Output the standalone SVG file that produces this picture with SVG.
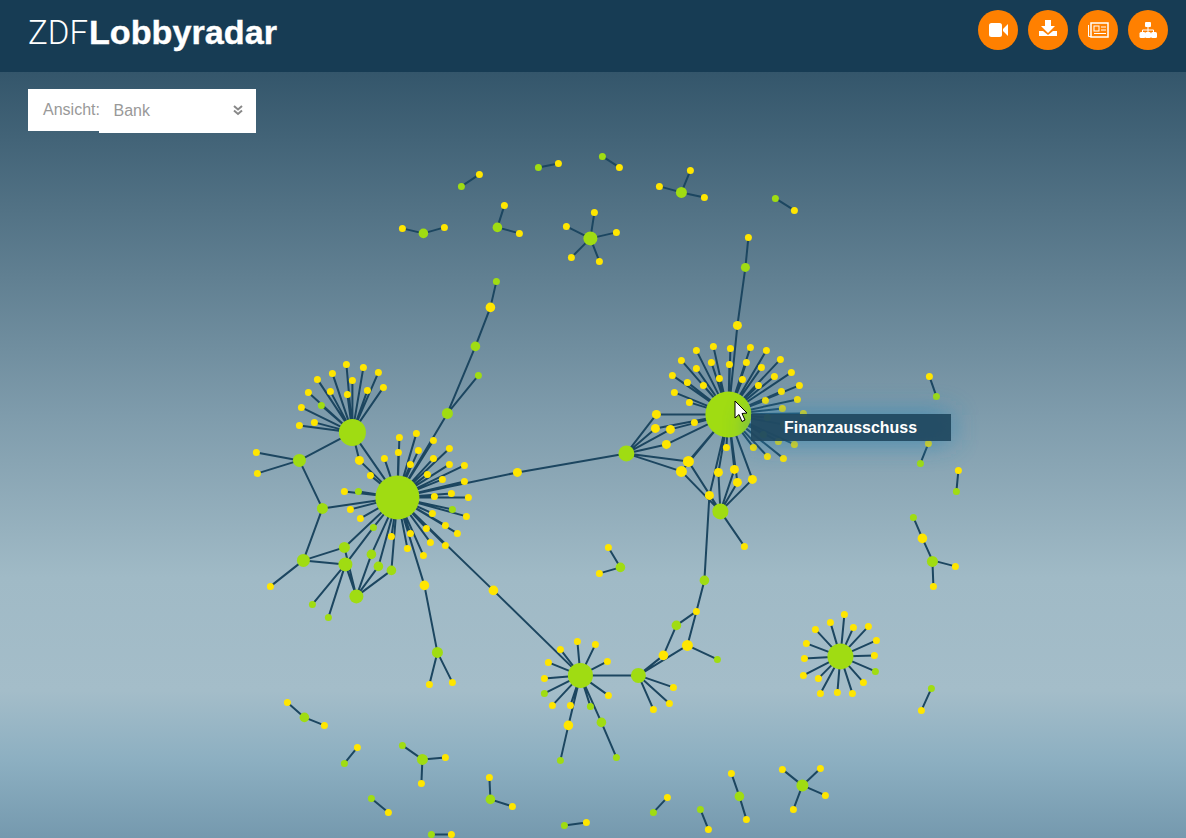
<svg xmlns="http://www.w3.org/2000/svg" width="1186" height="838" viewBox="0 0 1186 838">
<style>
.e{stroke:#1c4660;stroke-width:2;fill:none}
.y{fill:#ffe600}
.g{fill:#a0dc12}
.s{r:3.5px}
.t{r:3.5px}
.m{r:4.8px}
.i{fill:#fff}
.b{fill:#ff8000}
.f{font-family:"Liberation Sans",Arial,sans-serif}
</style>
<defs>
<linearGradient id="bg" x1="0" y1="0" x2="0" y2="1">
<stop offset="0" stop-color="#34566b"/>
<stop offset=".45" stop-color="#7f9cac"/>
<stop offset=".66" stop-color="#a0bac6"/>
<stop offset=".807" stop-color="#a4bdc9"/>
<stop offset=".9" stop-color="#8cafc1"/>
<stop offset="1" stop-color="#7599ae"/>
</linearGradient>
<filter id="glow" x="-30%" y="-200%" width="160%" height="500%"><feGaussianBlur stdDeviation="14"/></filter>
</defs>
<rect id="background" x="0" y="72" width="1186" height="766" fill="url(#bg)"/>
<g id="graph" transform="translate(.4 .4)">
<g id="connectors">
<path class="e" d="M728 414L737 325M737 325L745 267M745 267L748 237M728 414L713 346M728 414L730 348M728 414L750 347M728 414L766 350M728 414L780 359M728 414L791 372M728 414L799 385M728 414L696 350M728 414L681 360M728 414L672 375M728 414L674 392M728 414L687 382M728 414L696 368M728 414L711 362M728 414L729 364M728 414L746 362M728 414L761 367M728 414L774 376M728 414L781 391M728 414L703 385M728 414L719 378M728 414L742 379M728 414L758 385M728 414L765 400M728 414L689 402M728 414L797 399M728 414L782 408M728 414L803 413M728 414L767 417M728 414L783 424M728 414L763 434M728 414L778 441M728 414L794 444M728 414L753 447M728 414L767 456M728 414L783 458M728 414L726 447M728 414L694 422"/>
<path class="e" d="M728 414L656 414M728 414L655 428M728 414L670 429M728 414L666 444M728 414L688 461M728 414L681 471M728 414L718 472M728 414L734 469M728 414L737 482M728 414L752 479M728 414L709 495M626 453L656 414M626 453L655 428M626 453L670 429M626 453L666 444M626 453L688 461M626 453L681 471M720 511L688 461M720 511L681 471M720 511L718 472M720 511L734 469M720 511L737 482M720 511L752 479M720 511L709 495M720 511L744 546M709 495L704 580"/>
<path class="e" d="M704 580L696 611M696 611L676 625M696 611L687 645M676 625L663 655M687 645L717 659M687 645L638 675M663 655L638 675M638 675L580 675M638 675L673 687M638 675L669 703M638 675L653 709"/>
<path class="e" d="M397 497L352 432M352 432L346 364M352 432L363 367M352 432L378 372M352 432L383 387M352 432L332 373M352 432L352 380M352 432L317 379M352 432L308 392M352 432L330 391M352 432L347 394M352 432L367 390M352 432L321 405M352 432L301 407M352 432L314 422M352 432L299 425M352 432L299 460M352 432L359 460M359 460L397 497M299 460L256 452M299 460L257 473M299 460L322 508M322 508L397 497M322 508L303 560M303 560L270 586M303 560L344 547M303 560L345 564M345 564L312 604M345 564L328 617M345 564L356 596M344 547L356 596M344 547L397 497M345 564L373 527M373 527L397 497"/>
<path class="e" d="M356 596L371 554M356 596L378 566M356 596L391 570M397 497L371 554M397 497L378 566M397 497L391 570"/>
<path class="e" d="M397 497L370 475M397 497L384 458M397 497L399 437M397 497L398 452M397 497L416 433M397 497L410 464M397 497L418 450M397 497L433 440M397 497L447 413M447 413L475 346M447 413L478 375M475 346L490 307M490 307L496 281M397 497L433 458M397 497L449 448M397 497L427 474M397 497L449 464M397 497L464 465M397 497L442 479M397 497L464 481M397 497L451 493M397 497L434 496M397 497L468 497M397 497L452 509M397 497L466 516M397 497L432 513M397 497L445 525M397 497L457 533M397 497L426 528M397 497L410 533M397 497L430 542M397 497L445 545M397 497L423 555M397 497L407 548M397 497L391 536M397 497L424 585M424 585L437 652M437 652L429 684M437 652L452 682M397 497L344 491M397 497L358 491M397 497L350 509M397 497L360 518M397 497L493 590M493 590L580 675M397 497L517 472M517 472L626 453"/>
<path class="e" d="M580 675L577 641M580 675L595 644M580 675L607 661M580 675L560 649M580 675L548 662M580 675L544 678M580 675L544 693M580 675L552 705M580 675L570 705M580 675L590 706M580 675L608 695M580 675L568 725M568 725L560 760M580 675L601 722M601 722L616 757"/>
<path class="e" d="M840 656L844 614M840 656L830 622M840 656L853 627M840 656L868 626M840 656L815 629M840 656L876 640M840 656L806 643M840 656L874 655M840 656L804 658M840 656L875 671M840 656L803 675M840 656L818 678M840 656L863 682M840 656L820 693M840 656L837 692M840 656L852 693"/>
<path class="e" d="M461 186L479 174M538 167L558 163M602 156L619 167M681 192L659 186M681 192L690 170M681 192L704 197M775 198L794 210M423 233L402 228M423 233L444 227M497 227L504 205M497 227L519 233M590 238L566 226M590 238L594 212M590 238L616 232M590 238L571 257M590 238L599 261M929 376L936 396M928 443L920 463M958 470L956 491M913 517L922 538M922 538L932 560M932 560L955 566M932 560L933 586M608 547L620 567M620 567L599 573M931 688L921 710M287 702L304 717M304 717L324 725M357 747L344 763M402 745L422 759M422 759L445 757M422 759L421 783M371 798L388 812M489 777L490 799M490 799L512 806M432 834L451 834M564 825L586 822M667 797L653 812M700 809L708 829M731 773L739 796M739 796L746 819M802 785L782 769M802 785L820 768M802 785L825 795M802 785L793 809"/>
</g>
<g id="hub-finanzausschuss"><circle class="g" cx="728" cy="414" r="23"/></g>
<g id="hub-a"><circle class="g" cx="397" cy="497" r="22"/></g>
<g id="hub-c"><circle class="g" cx="352" cy="432" r="13.5"/></g>
<g id="hub-d"><circle class="g" cx="580" cy="675" r="12.5"/></g>
<g id="hub-e"><circle class="g" cx="840" cy="656" r="13"/></g>
<g id="b1"><circle class="y" cx="737" cy="325" r="4.5"/></g><g id="b2"><circle class="y s" cx="713" cy="346"/></g><g id="b3"><circle class="y s" cx="730" cy="348"/></g><g id="b4"><circle class="y s" cx="750" cy="347"/></g><g id="b5"><circle class="y s" cx="766" cy="350"/></g><g id="b6"><circle class="y s" cx="780" cy="359"/></g><g id="b7"><circle class="y s" cx="791" cy="372"/></g><g id="b8"><circle class="y s" cx="799" cy="385"/></g><g id="b9"><circle class="y s" cx="696" cy="350"/></g><g id="b10"><circle class="y s" cx="681" cy="360"/></g><g id="b11"><circle class="y s" cx="672" cy="375"/></g><g id="b12"><circle class="y s" cx="674" cy="392"/></g><g id="b13"><circle class="y s" cx="687" cy="382"/></g><g id="b14"><circle class="y s" cx="696" cy="368"/></g><g id="b15"><circle class="y s" cx="711" cy="362"/></g><g id="b16"><circle class="y s" cx="729" cy="364"/></g><g id="b17"><circle class="y s" cx="746" cy="362"/></g><g id="b18"><circle class="y s" cx="761" cy="367"/></g><g id="b19"><circle class="y s" cx="774" cy="376"/></g><g id="b20"><circle class="y s" cx="781" cy="391"/></g><g id="b21"><circle class="y s" cx="703" cy="385"/></g><g id="b22"><circle class="y s" cx="719" cy="378"/></g><g id="b23"><circle class="y s" cx="742" cy="379"/></g><g id="b24"><circle class="y s" cx="758" cy="385"/></g><g id="b25"><circle class="y s" cx="765" cy="400"/></g><g id="b26"><circle class="y s" cx="689" cy="402"/></g><g id="b27"><circle class="y s" cx="797" cy="399"/></g><g id="b28"><circle class="y s" cx="782" cy="408"/></g><g id="b29"><circle class="y s" cx="803" cy="413"/></g><g id="b30"><circle class="g s" cx="767" cy="417"/></g><g id="b31"><circle class="y s" cx="783" cy="424"/></g><g id="b32"><circle class="g s" cx="763" cy="434"/></g><g id="b33"><circle class="y s" cx="778" cy="441"/></g><g id="b34"><circle class="y s" cx="794" cy="444"/></g><g id="b35"><circle class="y s" cx="753" cy="447"/></g><g id="b36"><circle class="y s" cx="767" cy="456"/></g><g id="b37"><circle class="y s" cx="783" cy="458"/></g><g id="b38"><circle class="y s" cx="726" cy="447"/></g><g id="b39"><circle class="y s" cx="694" cy="422"/></g>
<g id="b40"><circle class="y" cx="656" cy="414" r="4.5"/></g><g id="b41"><circle class="y" cx="655" cy="428" r="4.5"/></g><g id="b42"><circle class="y" cx="670" cy="429" r="4.5"/></g><g id="b43"><circle class="y" cx="666" cy="444" r="4.5"/></g><g id="b44"><circle class="y" cx="688" cy="461" r="5.5"/></g><g id="b45"><circle class="y" cx="681" cy="471" r="5.5"/></g><g id="b46"><circle class="y" cx="718" cy="472" r="4.5"/></g><g id="b47"><circle class="y" cx="734" cy="469" r="4.5"/></g><g id="b48"><circle class="y" cx="737" cy="482" r="4.5"/></g><g id="b49"><circle class="y" cx="752" cy="479" r="4.5"/></g><g id="b50"><circle class="y" cx="709" cy="495" r="4.5"/></g><g id="b51"><circle class="g" cx="720" cy="511" r="8"/></g><g id="b52"><circle class="y s" cx="744" cy="546"/></g><g id="b53"><circle class="g" cx="626" cy="453" r="8"/></g><g id="b54"><circle class="y" cx="517" cy="472" r="4.5"/></g><g id="b55"><circle class="g" cx="745" cy="267" r="4.5"/></g><g id="b56"><circle class="y t" cx="748" cy="237"/></g>
<g id="c1"><circle class="y s" cx="346" cy="364"/></g><g id="c2"><circle class="y s" cx="363" cy="367"/></g><g id="c3"><circle class="y s" cx="378" cy="372"/></g><g id="c4"><circle class="y s" cx="383" cy="387"/></g><g id="c5"><circle class="y s" cx="332" cy="373"/></g><g id="c6"><circle class="y s" cx="352" cy="380"/></g><g id="c7"><circle class="y s" cx="317" cy="379"/></g><g id="c8"><circle class="y s" cx="308" cy="392"/></g><g id="c9"><circle class="y s" cx="330" cy="391"/></g><g id="c10"><circle class="y s" cx="347" cy="394"/></g><g id="c11"><circle class="y s" cx="367" cy="390"/></g><g id="c12"><circle class="g s" cx="321" cy="405"/></g><g id="c13"><circle class="y s" cx="301" cy="407"/></g><g id="c14"><circle class="y s" cx="314" cy="422"/></g><g id="c15"><circle class="y s" cx="299" cy="425"/></g><g id="c16"><circle class="g" cx="299" cy="460" r="6.5"/></g><g id="c17"><circle class="y" cx="359" cy="460" r="4.5"/></g><g id="c18"><circle class="y s" cx="256" cy="452"/></g><g id="c19"><circle class="y s" cx="257" cy="473"/></g><g id="c20"><circle class="g" cx="322" cy="508" r="5.5"/></g><g id="c21"><circle class="g" cx="303" cy="560" r="6.5"/></g><g id="c22"><circle class="y t" cx="270" cy="586"/></g><g id="c23"><circle class="g" cx="344" cy="547" r="5.5"/></g><g id="c24"><circle class="g" cx="345" cy="564" r="7"/></g><g id="c25"><circle class="g t" cx="312" cy="604"/></g><g id="c26"><circle class="g t" cx="328" cy="617"/></g><g id="c27"><circle class="g" cx="356" cy="596" r="7"/></g><g id="c28"><circle class="g t" cx="373" cy="527"/></g><g id="c29"><circle class="g m" cx="371" cy="554"/></g><g id="c30"><circle class="g m" cx="378" cy="566"/></g><g id="c31"><circle class="g m" cx="391" cy="570"/></g>
<g id="a1"><circle class="y s" cx="370" cy="475"/></g><g id="a2"><circle class="y s" cx="384" cy="458"/></g><g id="a3"><circle class="y s" cx="399" cy="437"/></g><g id="a4"><circle class="y s" cx="398" cy="452"/></g><g id="a5"><circle class="y s" cx="416" cy="433"/></g><g id="a6"><circle class="y s" cx="410" cy="464"/></g><g id="a7"><circle class="y s" cx="418" cy="450"/></g><g id="a8"><circle class="y s" cx="433" cy="440"/></g><g id="a9"><circle class="g" cx="447" cy="413" r="5.5"/></g><g id="a10"><circle class="g m" cx="475" cy="346"/></g><g id="a11"><circle class="g t" cx="478" cy="375"/></g><g id="a12"><circle class="y m" cx="490" cy="307"/></g><g id="a13"><circle class="g t" cx="496" cy="281"/></g><g id="a14"><circle class="y s" cx="433" cy="458"/></g><g id="a15"><circle class="y s" cx="449" cy="448"/></g><g id="a16"><circle class="y s" cx="427" cy="474"/></g><g id="a17"><circle class="y s" cx="449" cy="464"/></g><g id="a18"><circle class="y s" cx="464" cy="465"/></g><g id="a19"><circle class="y s" cx="442" cy="479"/></g><g id="a20"><circle class="y s" cx="464" cy="481"/></g><g id="a21"><circle class="y s" cx="451" cy="493"/></g><g id="a22"><circle class="y s" cx="434" cy="496"/></g><g id="a23"><circle class="y s" cx="468" cy="497"/></g><g id="a24"><circle class="g t" cx="452" cy="509"/></g><g id="a25"><circle class="y s" cx="466" cy="516"/></g><g id="a26"><circle class="y s" cx="432" cy="513"/></g><g id="a27"><circle class="y s" cx="445" cy="525"/></g><g id="a28"><circle class="y s" cx="457" cy="533"/></g><g id="a29"><circle class="y s" cx="426" cy="528"/></g><g id="a30"><circle class="y s" cx="410" cy="533"/></g><g id="a31"><circle class="y s" cx="430" cy="542"/></g><g id="a32"><circle class="y s" cx="445" cy="545"/></g><g id="a33"><circle class="y s" cx="423" cy="555"/></g><g id="a34"><circle class="y s" cx="407" cy="548"/></g><g id="a35"><circle class="y s" cx="391" cy="536"/></g><g id="a36"><circle class="y m" cx="424" cy="585"/></g><g id="a37"><circle class="g" cx="437" cy="652" r="5.5"/></g><g id="a38"><circle class="y t" cx="429" cy="684"/></g><g id="a39"><circle class="y t" cx="452" cy="682"/></g><g id="a40"><circle class="y t" cx="344" cy="491"/></g><g id="a41"><circle class="g t" cx="358" cy="491"/></g><g id="a42"><circle class="y t" cx="350" cy="509"/></g><g id="a43"><circle class="y t" cx="360" cy="518"/></g><g id="a44"><circle class="y m" cx="493" cy="590"/></g>
<g id="d1"><circle class="y t" cx="577" cy="641"/></g><g id="d2"><circle class="y t" cx="595" cy="644"/></g><g id="d3"><circle class="y t" cx="607" cy="661"/></g><g id="d4"><circle class="y t" cx="560" cy="649"/></g><g id="d5"><circle class="y t" cx="548" cy="662"/></g><g id="d6"><circle class="y t" cx="544" cy="678"/></g><g id="d7"><circle class="g t" cx="544" cy="693"/></g><g id="d8"><circle class="y t" cx="552" cy="705"/></g><g id="d9"><circle class="y t" cx="570" cy="705"/></g><g id="d10"><circle class="g t" cx="590" cy="706"/></g><g id="d11"><circle class="y t" cx="608" cy="695"/></g><g id="d12"><circle class="y m" cx="568" cy="725"/></g><g id="d13"><circle class="g m" cx="601" cy="722"/></g><g id="d14"><circle class="g t" cx="560" cy="760"/></g><g id="d15"><circle class="g t" cx="616" cy="757"/></g><g id="d16"><circle class="g" cx="638" cy="675" r="7.5"/></g><g id="d17"><circle class="y t" cx="673" cy="687"/></g><g id="d18"><circle class="y t" cx="669" cy="703"/></g><g id="d19"><circle class="y t" cx="653" cy="709"/></g><g id="d20"><circle class="y m" cx="663" cy="655"/></g><g id="d21"><circle class="y" cx="687" cy="645" r="5.5"/></g><g id="d22"><circle class="g m" cx="676" cy="625"/></g><g id="d23"><circle class="y t" cx="696" cy="611"/></g><g id="d24"><circle class="g t" cx="717" cy="659"/></g><g id="d25"><circle class="g m" cx="704" cy="580"/></g>
<g id="e1"><circle class="y t" cx="844" cy="614"/></g><g id="e2"><circle class="y t" cx="830" cy="622"/></g><g id="e3"><circle class="y t" cx="853" cy="627"/></g><g id="e4"><circle class="y t" cx="868" cy="626"/></g><g id="e5"><circle class="y t" cx="815" cy="629"/></g><g id="e6"><circle class="y t" cx="876" cy="640"/></g><g id="e7"><circle class="y t" cx="806" cy="643"/></g><g id="e8"><circle class="y t" cx="874" cy="655"/></g><g id="e9"><circle class="y t" cx="804" cy="658"/></g><g id="e10"><circle class="g t" cx="875" cy="671"/></g><g id="e11"><circle class="y t" cx="803" cy="675"/></g><g id="e12"><circle class="y t" cx="818" cy="678"/></g><g id="e13"><circle class="y t" cx="863" cy="682"/></g><g id="e14"><circle class="y t" cx="820" cy="693"/></g><g id="e15"><circle class="y t" cx="837" cy="692"/></g><g id="e16"><circle class="y t" cx="852" cy="693"/></g>
<g id="f1"><circle class="g t" cx="461" cy="186"/><circle class="y t" cx="479" cy="174"/></g><g id="f2"><circle class="g t" cx="538" cy="167"/><circle class="y t" cx="558" cy="163"/></g><g id="f3"><circle class="g t" cx="602" cy="156"/><circle class="y t" cx="619" cy="167"/></g><g id="f4"><circle class="g" cx="681" cy="192" r="5.5"/><circle class="y t" cx="659" cy="186"/><circle class="y t" cx="690" cy="170"/><circle class="y t" cx="704" cy="197"/></g><g id="f5"><circle class="g t" cx="775" cy="198"/><circle class="y t" cx="794" cy="210"/></g><g id="f6"><circle class="g m" cx="423" cy="233"/><circle class="y t" cx="402" cy="228"/><circle class="y t" cx="444" cy="227"/></g><g id="f7"><circle class="g m" cx="497" cy="227"/><circle class="y t" cx="504" cy="205"/><circle class="y t" cx="519" cy="233"/></g><g id="f8"><circle class="g" cx="590" cy="238" r="7"/><circle class="y t" cx="566" cy="226"/><circle class="y t" cx="594" cy="212"/><circle class="y t" cx="616" cy="232"/><circle class="y t" cx="571" cy="257"/><circle class="y t" cx="599" cy="261"/></g><g id="f9"><circle class="y t" cx="929" cy="376"/><circle class="g t" cx="936" cy="396"/></g><g id="f10"><circle class="y t" cx="928" cy="443"/><circle class="g t" cx="920" cy="463"/></g><g id="f11"><circle class="y t" cx="958" cy="470"/><circle class="g t" cx="956" cy="491"/></g><g id="f12"><circle class="g t" cx="913" cy="517"/><circle class="y m" cx="922" cy="538"/><circle class="g" cx="932" cy="561" r="5.5"/><circle class="y t" cx="955" cy="566"/><circle class="y t" cx="933" cy="586"/></g><g id="f13"><circle class="y t" cx="608" cy="547"/><circle class="g m" cx="620" cy="567"/><circle class="y t" cx="599" cy="573"/></g><g id="f14"><circle class="g t" cx="931" cy="688"/><circle class="y t" cx="921" cy="710"/></g><g id="f15"><circle class="y t" cx="287" cy="702"/><circle class="g m" cx="304" cy="717"/><circle class="y t" cx="324" cy="725"/></g><g id="f16"><circle class="y t" cx="357" cy="747"/><circle class="g t" cx="344" cy="763"/></g><g id="f17"><circle class="g t" cx="402" cy="745"/><circle class="g" cx="422" cy="759" r="5.5"/><circle class="y t" cx="445" cy="757"/><circle class="y t" cx="421" cy="783"/></g><g id="f18"><circle class="g t" cx="371" cy="798"/><circle class="y t" cx="388" cy="812"/></g><g id="f19"><circle class="y t" cx="489" cy="777"/><circle class="g m" cx="490" cy="799"/><circle class="y t" cx="512" cy="806"/></g><g id="f20"><circle class="g t" cx="431" cy="834"/><circle class="y t" cx="451" cy="834"/></g><g id="f21"><circle class="g t" cx="564" cy="825"/><circle class="y t" cx="586" cy="822"/></g><g id="f22"><circle class="y t" cx="667" cy="797"/><circle class="g t" cx="653" cy="812"/></g><g id="f23"><circle class="g t" cx="700" cy="809"/><circle class="y t" cx="708" cy="829"/></g><g id="f24"><circle class="y t" cx="731" cy="773"/><circle class="g m" cx="739" cy="796"/><circle class="y t" cx="746" cy="819"/></g><g id="f25"><circle class="g" cx="802" cy="785" r="6"/><circle class="y t" cx="782" cy="769"/><circle class="y t" cx="820" cy="768"/><circle class="y t" cx="825" cy="795"/><circle class="y t" cx="793" cy="809"/></g>
</g>
<g id="tooltip">
<rect x="751" y="414" width="200" height="27" fill="#2f84b0" opacity=".8" filter="url(#glow)"/>
<rect x="751" y="414" width="200" height="27" fill="#204860" opacity=".93"/>
<text class="f" x="784" y="433" font-size="16" font-weight="700" fill="#fff" textLength="133" lengthAdjust="spacingAndGlyphs">Finanzausschuss</text>
</g>
<g id="cursor"><path d="M735 401V418L739 414.500L742 421.500L745 420L742 413.500L747 413Z" fill="#fff" stroke="#000" stroke-width="1"/></g>
<g id="header">
<rect x="0" y="0" width="1186" height="72" fill="#173c54"/>
<text x="28" y="44" font-size="33" font-weight="300" fill="#fff" style="font-family:Roboto,'Liberation Sans',sans-serif" textLength="60" lengthAdjust="spacingAndGlyphs">ZDF</text>
<text class="f" x="89" y="44" font-size="34" font-weight="700" fill="#fff" stroke="#fff" stroke-width=".4" textLength="188" lengthAdjust="spacingAndGlyphs">Lobbyradar</text>
</g>
<g id="btn-video"><circle class="b" cx="998" cy="30" r="20"/><rect class="i" x="989" y="23" width="13" height="14" rx="2.500"/><path class="i" d="M1003 29L1008 24V36L1003 31Z"/></g>
<g id="btn-download"><circle class="b" cx="1048" cy="30" r="20"/><path class="i" d="M1045 20H1051V26H1055L1048 33L1041 26H1045Z"/><path class="i" d="M1039 31H1043L1048 35L1053 31H1057V36H1039Z"/></g>
<g id="btn-news"><circle class="b" cx="1098" cy="30" r="20"/><rect x="1091" y="23" width="17" height="14" fill="none" stroke="#fff" stroke-width="1.500"/><path d="M1088.500 25V36.500H1091" fill="none" stroke="#fff"/><rect x="1094" y="26" width="5" height="5" fill="none" stroke="#fff"/><path d="M1101 27H1106M1101 30H1106M1094 33.500H1106" stroke="#fff" fill="none"/></g>
<g id="btn-tree"><circle class="b" cx="1148" cy="30" r="20"/><rect class="i" x="1145" y="22" width="6" height="5" rx="1"/><path d="M1148 27V30M1142.500 33V30H1153.500V33M1148 30V33" stroke="#fff" fill="none"/><rect class="i" x="1139.500" y="32" width="6" height="6" rx="1.500"/><rect class="i" x="1145" y="32" width="6" height="6" rx="1.500"/><rect class="i" x="1151" y="32" width="6" height="6" rx="1.500"/></g>
<g id="view-select">
<rect class="i" x="28" y="89" width="72" height="42"/>
<rect class="i" x="99" y="89" width="157" height="44"/>
<text class="f" x="43" y="115" font-size="16" fill="#999">Ansicht:</text>
<text class="f" x="113.500" y="116" font-size="16" fill="#999">Bank</text>
<path d="M234 106L238 109.500L242 106M234 110.500L238 114L242 110.500" fill="none" stroke="#888" stroke-width="2"/>
</g>
</svg>
